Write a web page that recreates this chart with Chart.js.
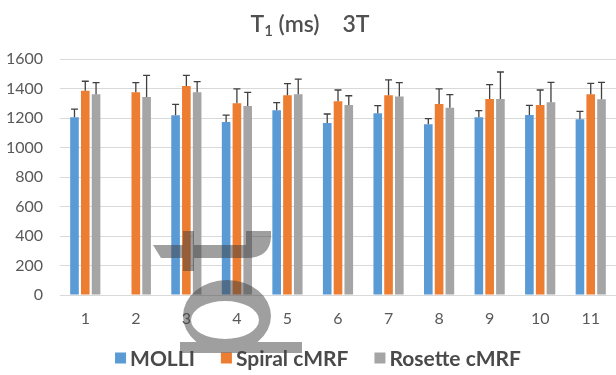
<!DOCTYPE html>
<html>
<head>
<meta charset="utf-8">
<script src="https://cdn.jsdelivr.net/npm/chart.js@4.4.1/dist/chart.umd.min.js"></script>
<style>
  html, body { margin: 0; padding: 0; background: #ffffff; overflow: hidden; }
  #wrap { position: relative; width: 616px; height: 375px; }
</style>
</head>
<body>
<div id="wrap"><canvas id="c" width="616" height="375"></canvas></div>
<script>
// Subjects 1..11, T1 at 3T (ms): mean and upper standard deviation per method
const categories = ['1', '2', '3', '4', '5', '6', '7', '8', '9', '10', '11'];
const seriesNames = ['MOLLI', 'Spiral cMRF', 'Rosette cMRF'];
const molli      = [1205, null, 1218, 1173, 1252, 1166, 1232, 1157, 1205, 1220, 1191];
const molliSd    = [55,   null, 75,   47,   52,   61,   52,   39,   45,   66,   54];
const spiral     = [1385, 1374, 1417, 1300, 1354, 1313, 1354, 1295, 1329, 1288, 1361];
const spiralSd   = [64,   66,   72,   97,   79,   77,   104,  102,  97,   102,  74];
const rosette    = [1361, 1342, 1374, 1281, 1361, 1288, 1345, 1270, 1329, 1306, 1327];
const rosetteSd  = [79,   147,  72,   93,   103,  63,   95,   88,   183,  136,  115];
const yTickValues = [0, 200, 400, 600, 800, 1000, 1200, 1400, 1600];

const colors = ['#5B9BD5', '#ED7D31', '#A5A5A5'];
const sdSets = [molliSd, spiralSd, rosetteSd];
const textGray = '#595959';
const FONT = 'Lato, "Liberation Sans", sans-serif';

// upper error bars with a short cap
const errorBars = {
  id: 'errorBars',
  afterDatasetsDraw(chart) {
    const ctx = chart.ctx;
    const y = chart.scales.y;
    ctx.save();
    ctx.strokeStyle = '#404040';
    ctx.lineWidth = 1.3;
    chart.data.datasets.forEach((ds, i) => {
      const meta = chart.getDatasetMeta(i);
      ds.data.forEach((v, j) => {
        const sd = sdSets[i][j];
        if (v == null || sd == null) return;
        const x = meta.data[j].x;
        const y0 = y.getPixelForValue(v);
        const y1 = y.getPixelForValue(v + sd);
        ctx.beginPath();
        ctx.moveTo(x, y0);
        ctx.lineTo(x, y1);
        ctx.moveTo(x - 3.5, y1);
        ctx.lineTo(x + 3.5, y1);
        ctx.stroke();
      });
    });
    ctx.restore();
  }
};

// title with subscript
const titleText = {
  id: 'titleText',
  afterDraw(chart) {
    const ctx = chart.ctx;
    ctx.save();
    ctx.fillStyle = '#505050';
    ctx.textBaseline = 'alphabetic';
    const big = '600 23px ' + FONT;
    const small = '600 15px ' + FONT;
    const parts = [
      { t: 'T', f: big, dy: 0 },
      { t: '1', f: small, dy: 4 },
      { t: ' (ms)    3T', f: big, dy: 0 }
    ];
    let total = 0;
    parts.forEach(p => { ctx.font = p.f; p.w = ctx.measureText(p.t).width; total += p.w; });
    let x = 310 - total / 2;
    const base = 32;
    parts.forEach(p => {
      ctx.font = p.f;
      ctx.fillText(p.t, x, base + p.dy);
      x += p.w;
    });
    ctx.restore();
  }
};

// legend row under the axis
const legendRow = {
  id: 'legendRow',
  afterDraw(chart) {
    const ctx = chart.ctx;
    ctx.save();
    ctx.font = 'bold 21px ' + FONT;
    ctx.textBaseline = 'middle';
    const box = 11, gapText = 4, gapItem = 26;
    const widths = seriesNames.map(n => ctx.measureText(n).width);
    let total = 0;
    widths.forEach((w, i) => { total += box + gapText + w + (i < widths.length - 1 ? gapItem : 0); });
    let x = 318 - total / 2;
    const cy = 358;
    seriesNames.forEach((n, i) => {
      ctx.fillStyle = colors[i];
      ctx.fillRect(x, cy - box / 2, box, box);
      x += box + gapText;
      ctx.fillStyle = '#4a4a4a';
      ctx.fillText(n, x, cy + 1);
      x += widths[i] + gapItem;
    });
    ctx.restore();
  }
};

// translucent stamp mark laid over the lower left of the plot
const stamp = {
  id: 'stamp',
  afterDraw(chart) {
    const ctx = chart.ctx;
    ctx.save();
    ctx.fillStyle = 'rgba(64,64,64,0.5)';
    ctx.beginPath();
    // crossbar
    ctx.moveTo(153, 245); ctx.lineTo(248, 245); ctx.lineTo(248, 258); ctx.lineTo(161, 258); ctx.closePath();
    // hook at the right end of the crossbar
    ctx.moveTo(240, 245); ctx.lineTo(246, 245); ctx.lineTo(246, 231); ctx.lineTo(271, 231);
    ctx.lineTo(271, 237); ctx.quadraticCurveTo(270, 258, 246, 258); ctx.lineTo(240, 258); ctx.closePath();
    // stem
    ctx.moveTo(183, 231); ctx.lineTo(194, 231); ctx.lineTo(194, 271); ctx.lineTo(183, 271); ctx.closePath();
    // ring
    ctx.moveTo(271, 316);
    ctx.ellipse(227, 316, 44, 36, 0, 0, Math.PI * 2, false);
    ctx.moveTo(259, 320);
    ctx.ellipse(225, 320, 34, 19, 0, 0, Math.PI * 2, true);
    // base
    ctx.moveTo(180, 342); ctx.lineTo(302, 342); ctx.lineTo(302, 353); ctx.lineTo(180, 353); ctx.closePath();
    ctx.fill('nonzero');
    ctx.restore();
  }
};

const datasets = [molli, spiral, rosette].map((d, i) => ({
  label: seriesNames[i],
  data: d,
  backgroundColor: colors[i],
  borderWidth: 0,
  categoryPercentage: 0.64,
  barPercentage: 0.8
}));

new Chart(document.getElementById('c'), {
  type: 'bar',
  data: { labels: categories, datasets },
  options: {
    responsive: false,
    animation: false,
    devicePixelRatio: 1,
    layout: { padding: { top: 59, left: 0, right: 0, bottom: 0 } },
    plugins: {
      legend: { display: false },
      title: { display: false },
      tooltip: { enabled: false }
    },
    scales: {
      x: {
        grid: { display: false },
        border: { display: true, color: '#d9d9d9' },
        ticks: { color: textGray, font: { family: FONT, size: 16 }, padding: 6 },
        afterFit(s) { s.height = 80; }
      },
      y: {
        min: 0,
        max: 1600,
        afterBuildTicks(s) { s.ticks = yTickValues.map(v => ({ value: v })); },
        grid: { color: '#d9d9d9', drawTicks: false },
        border: { display: false },
        ticks: {
          color: textGray,
          font: { family: FONT, size: 16 },
          padding: 17,
          callback: v => String(v)
        },
        afterFit(s) { s.width = 60; }
      }
    }
  },
  plugins: [errorBars, titleText, legendRow, stamp]
});
</script>
</body>
</html>
